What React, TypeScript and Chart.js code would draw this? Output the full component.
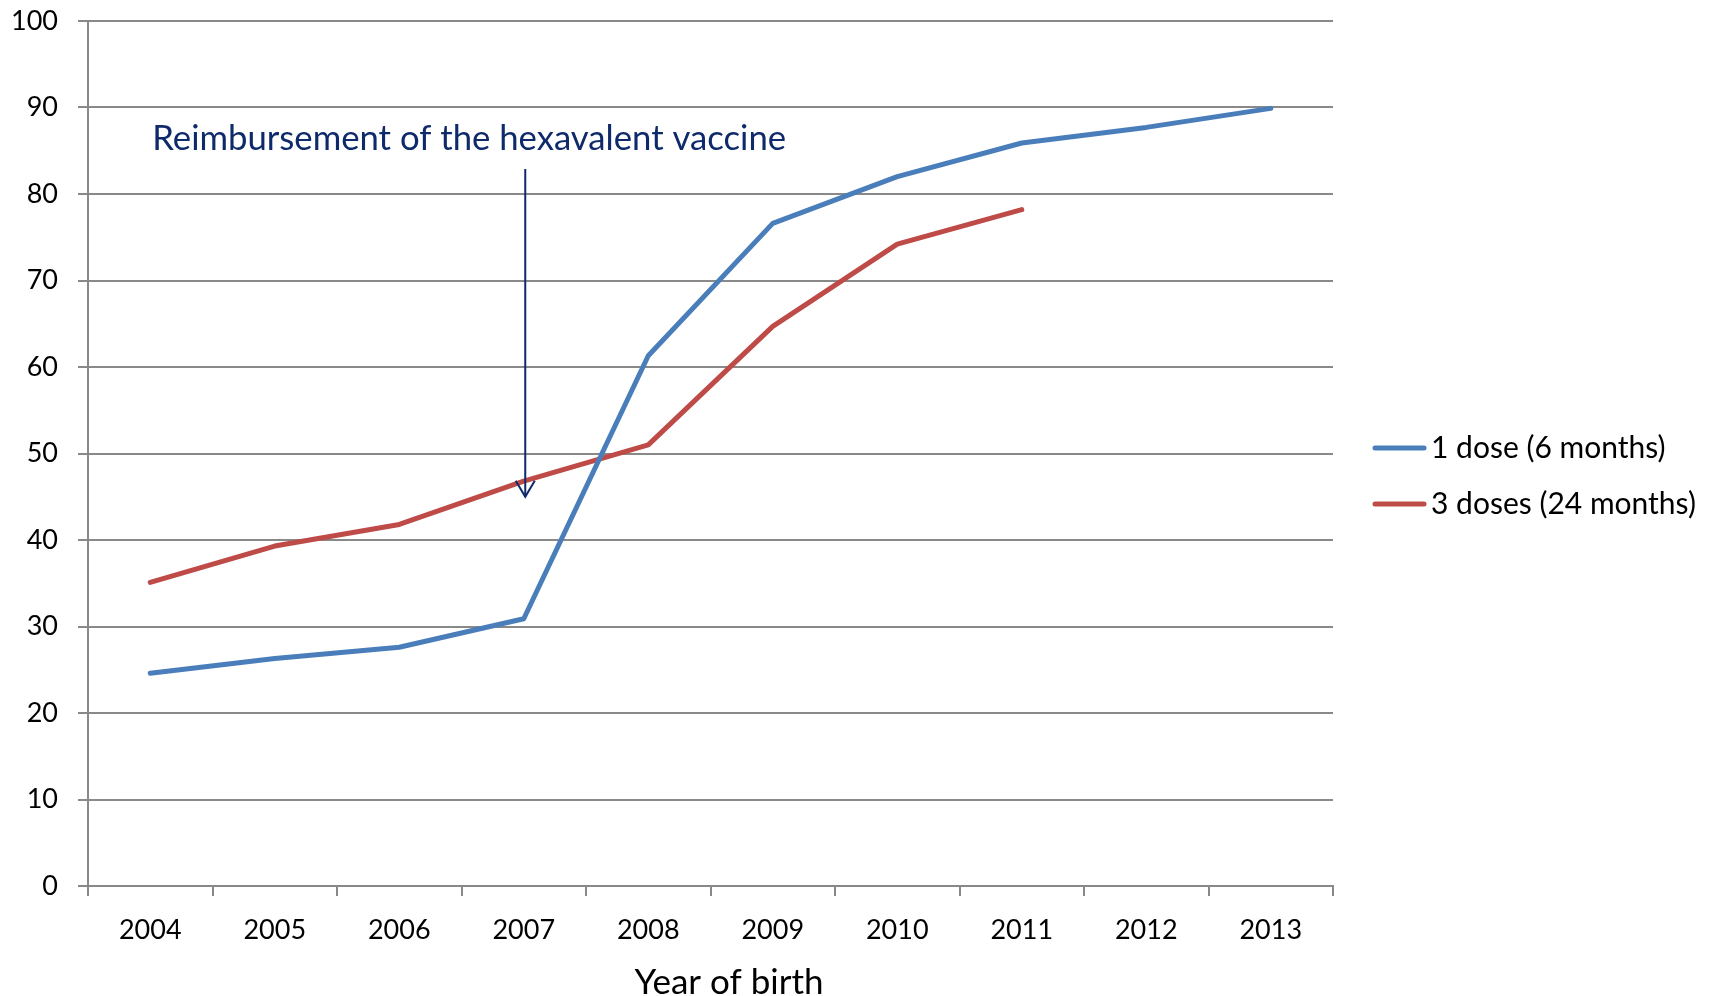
import React, { useEffect, useRef } from "react";
import { Chart, registerables } from "chart.js";

Chart.register(...registerables);

// ---- data ----
const years = ["2004", "2005", "2006", "2007", "2008", "2009", "2010", "2011", "2012", "2013"];
const oneDose = [24.6, 26.3, 27.6, 30.9, 61.3, 76.6, 82.0, 85.9, 87.7, 89.9];
const threeDoses = [35.1, 39.3, 41.8, 46.8, 51.0, 64.7, 74.2, 78.2, null, null];
const seriesLabels = ["1 dose (6 months)", "3 doses (24 months)"];
const seriesColors = ["#4A7EBB", "#BE4B48"];
const yMin = 0;
const yMax = 100;
const yStep = 10;
const annotationText = "Reimbursement of the hexavalent vaccine";
const xAxisTitle = "Year of birth";

const FONT = "Lato, 'Open Sans', sans-serif";
const NAVY = "#0E2A6B";
const GRID = "#898989";

const overlay = {
  id: "overlay",
  afterDraw(chart: any) {
    const { ctx } = chart;
    const x = chart.scales.x;
    const y = chart.scales.y;
    ctx.save();

    // annotation text
    ctx.font = `34.7px ${FONT}`;
    ctx.fillStyle = NAVY;
    ctx.textAlign = "left";
    ctx.textBaseline = "alphabetic";
    ctx.fillText(annotationText, x.getPixelForValue(0) + 2, y.getPixelForValue(85.1));

    // arrow
    const ax = x.getPixelForValue(3) + 1.5;
    const top = y.getPixelForValue(82.9);
    const tip = y.getPixelForValue(45);
    ctx.strokeStyle = NAVY;
    ctx.lineWidth = 2;
    ctx.beginPath();
    ctx.moveTo(ax, top);
    ctx.lineTo(ax, tip);
    ctx.stroke();
    ctx.beginPath();
    ctx.moveTo(ax - 9.5, tip - 16);
    ctx.lineTo(ax, tip);
    ctx.lineTo(ax + 9.5, tip - 16);
    ctx.stroke();

    // legend
    const legendY = [448, 504];
    chart.data.datasets.forEach((ds: any, i: number) => {
      const ly = legendY[i];
      ctx.strokeStyle = ds.borderColor;
      ctx.lineWidth = 5;
      ctx.lineCap = "round";
      ctx.beginPath();
      ctx.moveTo(1375, ly);
      ctx.lineTo(1424, ly);
      ctx.stroke();
      ctx.fillStyle = "#000";
      ctx.font = `30px ${FONT}`;
      ctx.textAlign = "left";
      ctx.textBaseline = "middle";
      ctx.fillText(ds.label, 1431, ly);
    });

    // x axis title
    ctx.fillStyle = "#000";
    ctx.font = `35px ${FONT}`;
    ctx.textAlign = "center";
    ctx.textBaseline = "alphabetic";
    ctx.fillText(xAxisTitle, 729, 994);

    ctx.restore();
  },
};

export default function App() {
  const ref = useRef<HTMLCanvasElement | null>(null);

  useEffect(() => {
    if (!ref.current) return;
    const chart = new Chart(ref.current, {
      type: "line",
      data: {
        labels: years,
        datasets: [
          {
            label: seriesLabels[0],
            data: oneDose,
            borderColor: seriesColors[0],
            backgroundColor: seriesColors[0],
            borderWidth: 5,
            borderCapStyle: "round",
            borderJoinStyle: "round",
            pointRadius: 0,
            tension: 0,
          },
          {
            label: seriesLabels[1],
            data: threeDoses,
            borderColor: seriesColors[1],
            backgroundColor: seriesColors[1],
            borderWidth: 5,
            borderCapStyle: "round",
            borderJoinStyle: "round",
            pointRadius: 0,
            tension: 0,
          },
        ],
      },
      options: {
        responsive: false,
        animation: false,
        devicePixelRatio: 1,
        layout: { padding: { top: 21, right: 376, bottom: 0, left: 0 } },
        plugins: {
          legend: { display: false },
          tooltip: { enabled: false },
          title: { display: false },
        },
        scales: {
          x: {
            type: "category",
            offset: true,
            afterFit: (s: any) => {
              s.height = 110;
            },
            grid: {
              offset: true,
              drawOnChartArea: false,
              drawTicks: true,
              tickLength: 10,
              color: GRID,
              lineWidth: 2,
            },
            border: { display: true, color: GRID, width: 2 },
            ticks: {
              color: "#000",
              font: { family: FONT, size: 27 },
              padding: 18,
              maxRotation: 0,
              autoSkip: false,
            },
          },
          y: {
            min: yMin,
            max: yMax,
            afterFit: (s: any) => {
              s.width = 88;
              s.paddingTop = 0;
              s.paddingBottom = 0;
            },
            grid: {
              color: GRID,
              lineWidth: 2,
              drawTicks: true,
              tickLength: 10,
            },
            border: { display: true, color: GRID, width: 2 },
            ticks: {
              stepSize: yStep,
              color: "#000",
              font: { family: FONT, size: 27 },
              padding: 20,
            },
          },
        },
      },
      plugins: [overlay],
    });
    return () => chart.destroy();
  }, []);

  return (
    <div style={{ position: "fixed", left: 0, top: 0, width: 1709, height: 996, background: "#fff" }}>
      <canvas ref={ref} width={1709} height={996} />
    </div>
  );
}
